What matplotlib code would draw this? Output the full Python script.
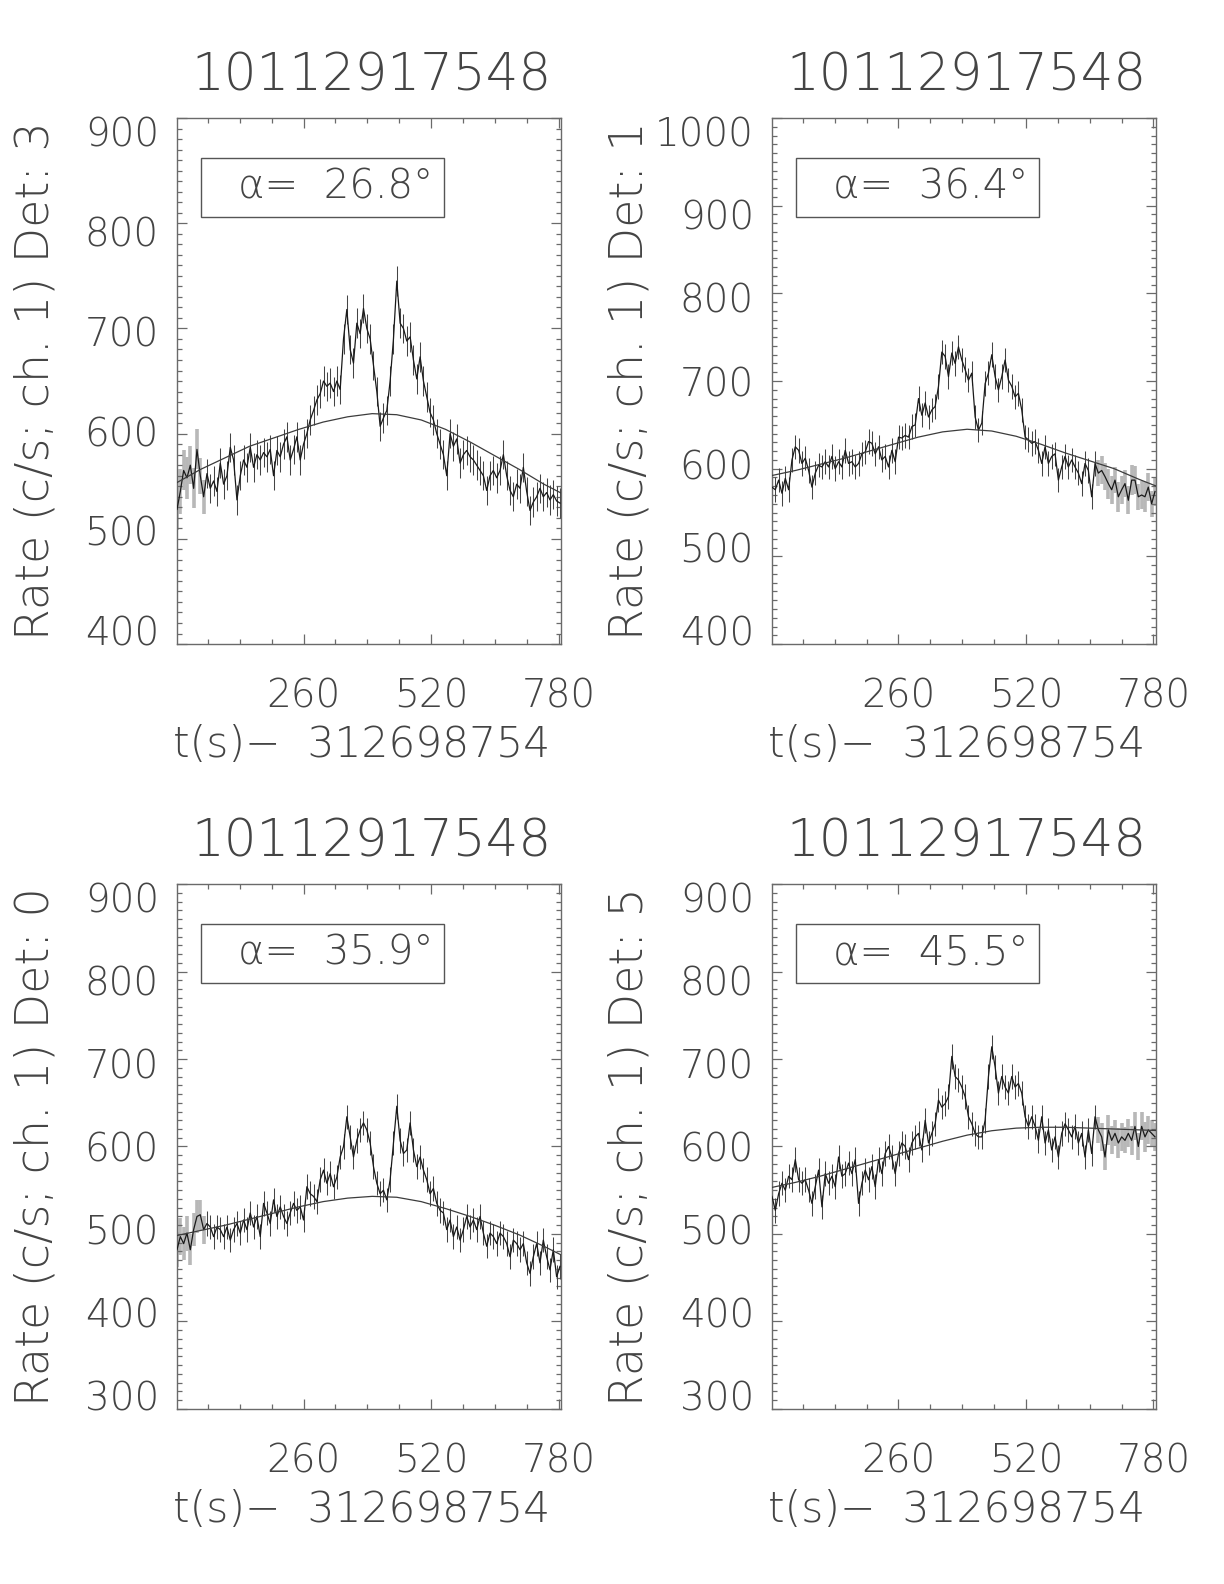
import numpy as np
import matplotlib
matplotlib.use("Agg")
import matplotlib.pyplot as plt
from matplotlib.ticker import MultipleLocator
from matplotlib.patches import Rectangle

# DejaVu Sans ExtraLight is the closest thing to the thin IDL vector font
plt.rcParams['font.family'] = ['DejaVu Sans']
plt.rcParams['font.weight'] = 'light'

TXT = '#444444'
FRAME = '#6a6a6a'

obs_id = "10112917548"
t_offset = "312698754"
x_ticks = [260, 520, 780]

# light-curve bins (s since t_offset)
t = np.linspace(2, 783, 116)
t_model = [0, 50, 100, 150, 200, 250, 300, 350, 400, 450, 500, 550, 600, 650, 700, 750, 800]

# Det 3
rate_d3 = [528, 545, 565, 558, 570, 548, 585, 560, 540, 562, 548, 555, 545, 572, 552, 560,
           587, 575, 537, 560, 575, 568, 587, 568, 580, 575, 582, 578, 585, 560, 584, 578,
           590, 597, 575, 585, 597, 575, 590, 600, 613, 622, 632, 638, 650, 645, 648, 640,
           650, 642, 690, 718, 680, 667, 705, 695, 719, 700, 690, 665, 640, 607, 615, 622,
           650, 690, 745, 705, 700, 688, 692, 670, 652, 673, 650, 635, 620, 613, 600, 590,
           580, 560, 600, 588, 595, 572, 580, 584, 578, 575, 570, 565, 560, 546, 560, 565,
           558, 565, 580, 560, 546, 540, 552, 548, 568, 545, 527, 535, 540, 548, 540, 544,
           537, 542, 536, 534]
model_d3 = [553, 566, 577, 588, 596, 604, 611, 616, 619, 618, 613, 604, 592, 579, 566, 552, 540]

# Det 1
rate_d1 = [579, 576, 587, 572, 589, 576, 610, 625, 621, 606, 612, 598, 579, 595, 604, 602,
           608, 602, 614, 600, 608, 602, 621, 606, 608, 602, 606, 617, 619, 631, 629, 617,
           625, 610, 614, 602, 621, 608, 636, 635, 638, 636, 648, 650, 680, 661, 675, 659,
           667, 671, 694, 733, 728, 705, 732, 720, 739, 724, 713, 701, 709, 659, 644, 652,
           697, 709, 730, 705, 690, 705, 724, 701, 694, 682, 686, 667, 636, 633, 629, 631,
           621, 606, 625, 606, 614, 617, 587, 602, 614, 602, 610, 602, 595, 583, 606, 598,
           568, 606, 595, 598, 591, 583, 576, 587, 568, 576, 583, 564, 587, 587, 568, 570,
           568, 579, 560, 574]
model_d1 = [592, 598, 605, 612, 620, 628, 636, 642, 645, 643, 637, 628, 618, 609, 600, 588, 577]

# Det 0
rate_d0 = [482, 497, 489, 501, 482, 505, 520, 522, 505, 512, 508, 497, 508, 505, 497, 508,
           493, 505, 512, 501, 516, 505, 524, 508, 520, 497, 535, 524, 512, 539, 520, 531,
           520, 512, 524, 535, 527, 531, 516, 554, 546, 543, 537, 562, 573, 558, 569, 554,
           565, 588, 600, 634, 611, 588, 607, 619, 627, 619, 604, 577, 558, 546, 550, 539,
           562, 604, 646, 607, 592, 596, 627, 596, 577, 588, 573, 562, 546, 552, 535, 527,
           524, 505, 516, 497, 508, 493, 505, 520, 508, 516, 505, 520, 501, 486, 501, 497,
           489, 501, 497, 489, 474, 493, 489, 482, 489, 467, 455, 474, 489, 467, 493, 474,
           459, 482, 451, 463]
model_d0 = [498, 504, 510, 517, 524, 531, 537, 541, 543, 542, 537, 529, 520, 510, 499, 486, 472]

# Det 5
rate_d5 = [543, 527, 546, 558, 550, 566, 562, 585, 562, 558, 562, 550, 535, 554, 573, 531,
           569, 558, 566, 554, 588, 566, 569, 581, 569, 585, 535, 558, 573, 562, 577, 554,
           585, 569, 592, 600, 588, 569, 592, 604, 600, 585, 604, 611, 615, 596, 630, 604,
           615, 626, 653, 645, 649, 657, 703, 680, 676, 668, 657, 634, 626, 615, 611, 611,
           630, 680, 714, 691, 661, 680, 668, 661, 680, 668, 672, 661, 634, 623, 634, 623,
           607, 634, 604, 619, 596, 611, 588, 615, 626, 619, 611, 623, 604, 615, 588, 619,
           592, 634, 619, 611, 588, 619, 607, 615, 604, 611, 607, 615, 607, 623, 600, 623,
           611, 619, 615, 611]
model_d5 = [553, 559, 566, 574, 582, 590, 598, 606, 613, 618, 621, 622, 622, 621, 620, 619, 618]

# error bars: typical value, plus the wide grey ones at the ends
err_typ = 14
edge_err_left = [20, 21, 19, 20, 18, 19, 19, 17, 16]
edge_err_right = [15, 16, 15, 17, 16, 15, 17, 16, 15, 16, 17, 16, 15, 16, 17, 16, 15, 16]

panels = [
    dict(rate=rate_d3, model=model_d3, det="3", alpha="26.8", ylim=(400, 900), edge="left",
         rect=[0.1446, 0.5934, 0.3137, 0.3321]),
    dict(rate=rate_d1, model=model_d1, det="1", alpha="36.4", ylim=(400, 1000), edge="right",
         rect=[0.6307, 0.5934, 0.3137, 0.3321]),
    dict(rate=rate_d0, model=model_d0, det="0", alpha="35.9", ylim=(300, 900), edge="left",
         rect=[0.1446, 0.1105, 0.3137, 0.3314]),
    dict(rate=rate_d5, model=model_d5, det="5", alpha="45.5", ylim=(300, 900), edge="right",
         rect=[0.6307, 0.1105, 0.3137, 0.3314]),
]

fig = plt.figure(figsize=(12.24, 15.84), dpi=100)

for p in panels:
    ax = fig.add_axes(p['rect'])
    rate = np.array(p['rate'], dtype=float)
    err = np.full(len(rate), float(err_typ))
    grey = np.zeros(len(rate), dtype=bool)
    if p['edge'] == "left":
        n = len(edge_err_left)
        err[:n] = edge_err_left
        grey[:n] = True
    else:
        n = len(edge_err_right)
        err[-n:] = edge_err_right
        grey[-n:] = True

    ax.vlines(t[grey], rate[grey] - err[grey], rate[grey] + err[grey],
              color='#b8b8b8', lw=2.6, zorder=1)
    ax.vlines(t[~grey], rate[~grey] - err[~grey], rate[~grey] + err[~grey],
              color='#444444', lw=0.75, zorder=2)
    ax.plot(t, rate, color='#1a1a1a', lw=0.9, zorder=3)
    ax.plot(t_model, p['model'], color='#3c3c3c', lw=0.9, zorder=4)

    lo, hi = p['ylim']
    ax.set_xlim(2, 785)
    ax.set_ylim(lo, hi)
    ax.xaxis.set_major_locator(MultipleLocator(260))
    ax.xaxis.set_minor_locator(MultipleLocator(65))
    ax.yaxis.set_major_locator(MultipleLocator(100))
    ax.yaxis.set_minor_locator(MultipleLocator(10))
    ax.set_xticks(x_ticks)
    ax.set_xticklabels([str(v) for v in x_ticks])
    ax.tick_params(which='both', direction='in', top=True, right=True,
                   color=FRAME, width=0.9, labelcolor=TXT, labelleft=False)
    ax.tick_params(which='major', length=7)
    ax.tick_params(which='minor', length=3.5)
    ax.tick_params(axis='x', pad=24, labelsize=28)
    for s in ax.spines.values():
        s.set_color(FRAME)
        s.set_linewidth(1.0)

    # the IDL y labels sit slightly inside the tick span; draw them on a bare overlay axis
    lab = fig.add_axes(p['rect'], frameon=False, zorder=-1)
    span = (hi - lo) / 0.95
    lab.set_ylim(lo - 0.025 * span, hi + 0.025 * span)
    lab.yaxis.set_major_locator(MultipleLocator(100))
    lab.set_xticks([])
    lab.tick_params(axis='y', length=0, pad=13, labelsize=28, labelcolor=TXT)
    lab.patch.set_visible(False)

    ax.add_patch(Rectangle((0.062, 0.812), 0.634, 0.112, transform=ax.transAxes,
                           fill=False, ec='#555555', lw=1.0, zorder=5))
    ax.text(0.16, 0.868, 'α=  ' + p['alpha'] + '°', transform=ax.transAxes,
            ha='left', va='center', fontsize=29, color=TXT, zorder=6)

    x0, y0, w, h = p['rect']
    fig.text(x0 + w / 2 + 0.002, y0 + h + 0.0263, obs_id, ha='center', va='center',
             fontsize=37, color=TXT)
    fig.text(x0 - 0.1160, y0 + h / 2, "Rate (c/s; ch. 1) Det: " + p['det'], rotation=90,
             ha='center', va='center', fontsize=33, color=TXT)
    fig.text(x0 + w / 2 - 0.006, y0 - 0.0637, "t(s)−  " + t_offset, ha='center', va='center',
             fontsize=30.5, color=TXT)

fig.savefig("out.png", dpi=100)
